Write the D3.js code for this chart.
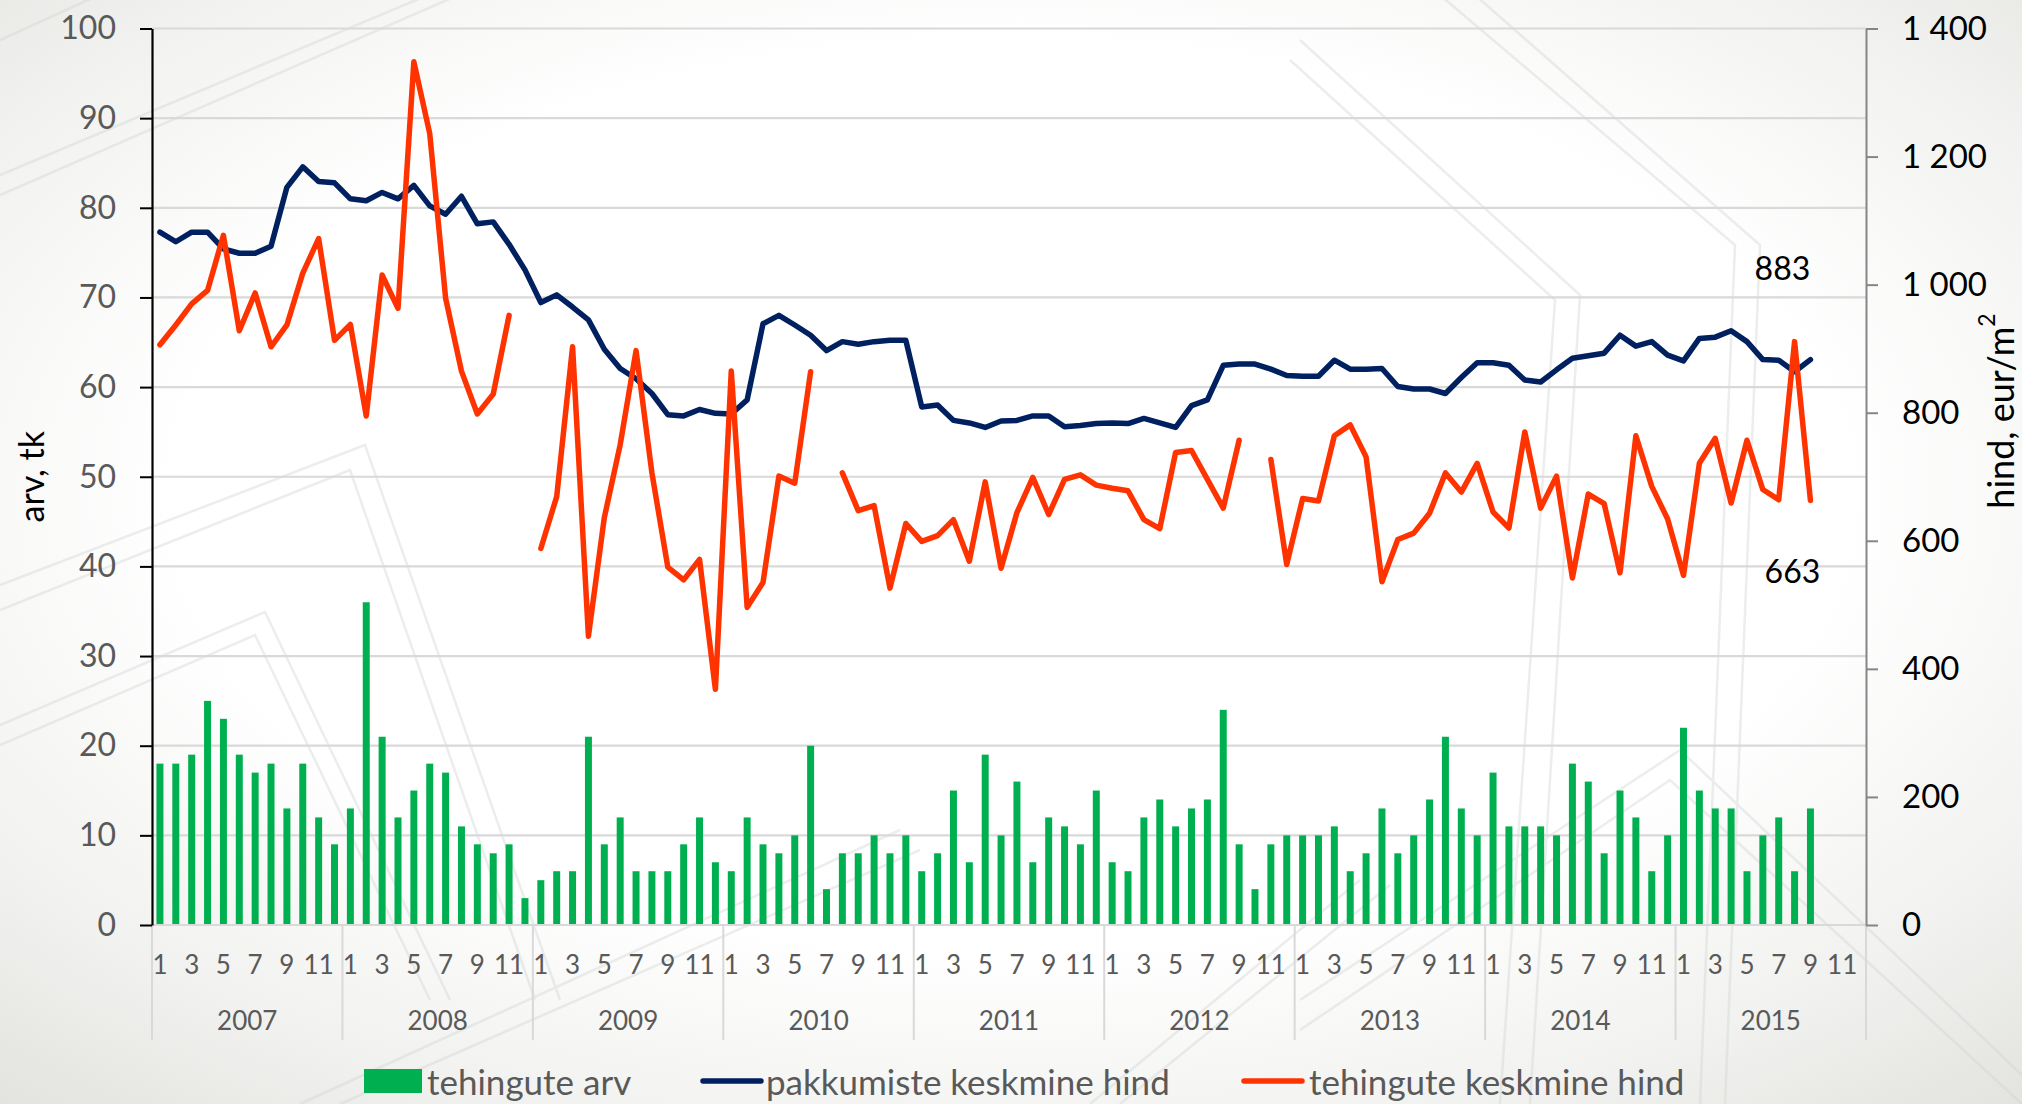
<!DOCTYPE html>
<html><head><meta charset="utf-8">
<script src="https://cdn.jsdelivr.net/npm/d3@7"></script>
<style>
html,body{margin:0;padding:0;background:#fff;}
svg{display:block;font-family:Lato,"Open Sans",sans-serif;}
</style></head><body>
<svg id="chart" width="2022" height="1104"></svg>
<script>
// ---------- data ----------
const years = [2007, 2008, 2009, 2010, 2011, 2012, 2013, 2014, 2015];
const monthTickLabels = ["1", "", "3", "", "5", "", "7", "", "9", "", "11", ""];
const leftTicks = [0, 10, 20, 30, 40, 50, 60, 70, 80, 90, 100];
const rightTicks = [0, 200, 400, 600, 800, 1000, 1200, 1400];

// tehingute arv (count of deals), monthly 2007-01 .. 2015-09
const dealCount = [
  18, 18, 19, 25, 23, 19, 17, 18, 13, 18, 12, 9,
  13, 36, 21, 12, 15, 18, 17, 11, 9, 8, 9, 3,
  5, 6, 6, 21, 9, 12, 6, 6, 6, 9, 12, 7,
  6, 12, 9, 8, 10, 20, 4, 8, 8, 10, 8, 10,
  6, 8, 15, 7, 19, 10, 16, 7, 12, 11, 9, 15,
  7, 6, 12, 14, 11, 13, 14, 24, 9, 4, 9, 10,
  10, 10, 11, 6, 8, 13, 8, 10, 14, 21, 13, 10,
  17, 11, 11, 11, 10, 18, 16, 8, 15, 12, 6, 10,
  22, 15, 13, 13, 6, 10, 12, 6, 13, null, null, null
];
// pakkumiste keskmine hind (eur/m2)
const offerPrice = [
  1082, 1067, 1082, 1082, 1056, 1049, 1049, 1060, 1152, 1184, 1161, 1159,
  1134, 1131, 1144, 1134, 1155, 1123, 1110, 1138, 1095, 1098, 1063, 1023,
  972, 984, 965, 945, 899, 869, 853, 830, 797, 795, 805, 799,
  798, 820, 939, 952, 937, 921, 897, 911, 907, 911, 913, 913,
  809, 812, 788, 784, 777, 787, 788, 795, 795, 778, 780, 783,
  784, 783, 791, 784, 777, 811, 820, 874, 876, 876, 868, 858,
  857, 857, 882, 868, 868, 869, 841, 837, 837, 830, 855, 878,
  878, 874, 851, 848, 867, 885, 889, 893, 921, 904, 911, 890,
  881, 916, 918, 928, 911, 883, 882, 864, 883, null, null, null
];
// tehingute keskmine hind (eur/m2)
const dealPrice = [
  906, 937, 970, 991, 1077, 928, 987, 903, 937, 1018, 1072, 913,
  938, 795, 1015, 963, 1348, 1236, 979, 865, 798, 829, 952, null,
  588, 669, 903, 451, 636, 750, 897, 706, 559, 539, 571, 368,
  865, 496, 535, 701, 690, 864, null, 706, 647, 655, 526, 627,
  599, 608, 633, 568, 692, 557, 644, 699, 641, 696, 703, 687,
  682, 678, 633, 619, 738, 741, 696, 651, 757, null, 727, 563,
  666, 662, 764, 781, 731, 536, 602, 612, 643, 706, 676, 721,
  645, 620, 770, 651, 701, 542, 673, 658, 550, 764, 685, 634,
  546, 721, 760, 659, 757, 680, 664, 911, 663, null, null, null
];
const seriesNames = ["tehingute arv", "pakkumiste keskmine hind", "tehingute keskmine hind"];
const lastLabels = ["883", "663"];

// ---------- layout ----------
const W = 2022, H = 1104;
const plot = {left: 152, right: 1866, top: 28.5, bottom: 925};
const colGreen = "#00B050", colBlue = "#002060", colRed = "#FF3300";
const gridCol = "#d9d9d9", textGray = "#595959";

const categories = [];
years.forEach(y => monthTickLabels.forEach((m, i) => categories.push({year: y, month: i + 1, label: m})));

const svg = d3.select("#chart");

// background
const defs = svg.append("defs");
const rg = defs.append("radialGradient").attr("id", "bg")
  .attr("cx", "50%").attr("cy", "45%").attr("r", "75%");
rg.append("stop").attr("offset", "0%").attr("stop-color", "#ffffff");
rg.append("stop").attr("offset", "55%").attr("stop-color", "#ffffff");
rg.append("stop").attr("offset", "80%").attr("stop-color", "#f1f1ef");
rg.append("stop").attr("offset", "100%").attr("stop-color", "#e2e2df");
svg.append("rect").attr("width", W).attr("height", H).attr("fill", "url(#bg)");

// faint decorative lines (background ornament)
const deco = svg.append("g").attr("fill", "none").attr("stroke", "#cfd6d2")
  .attr("stroke-width", 2.5).attr("opacity", 0.4);
[
  "M0,175 L440,-10", "M0,195 L470,-10",
  "M0,40 L110,-10",
  "M0,585 L365,445 L560,1000", "M0,610 L350,470 L535,1000",
  "M0,725 L265,612 L450,1000", "M0,745 L255,635 L430,1000",
  "M1440,-5 L1735,245 L1700,1104", "M1475,-5 L1760,245 L1725,1104",
  "M1290,60 L1555,300 L1500,1104", "M1300,40 L1580,295 L1530,1104",
  "M1300,1000 L1680,750 L2022,1075", "M1300,1030 L1670,780 L2022,1104",
  "M1090,1104 L1360,880", "M1120,1104 L1390,885",
  "M300,1104 L900,830", "M340,1104 L920,850"
].forEach(d => deco.append("path").attr("d", d));

// scales
const x = d3.scaleBand().domain(d3.range(categories.length))
  .range([plot.left, plot.right]).paddingInner(0.56).paddingOuter(0.28);
const step = x.step();
const cx = i => x(i) + x.bandwidth() / 2;
const yL = d3.scaleLinear().domain([0, 100]).range([plot.bottom, plot.top]);
const yR = d3.scaleLinear().domain([0, 1400]).range([plot.bottom, plot.top]);

// gridlines
svg.append("g").selectAll("line").data(leftTicks).join("line")
  .attr("x1", plot.left).attr("x2", plot.right)
  .attr("y1", d => yL(d)).attr("y2", d => yL(d))
  .attr("stroke", gridCol).attr("stroke-width", 2.2);

// bars
svg.append("g").selectAll("rect")
  .data(dealCount.map((v, i) => ({v, i})).filter(d => d.v != null))
  .join("rect")
  .attr("x", d => x(d.i)).attr("width", x.bandwidth())
  .attr("y", d => yL(d.v)).attr("height", d => yL(0) - yL(d.v))
  .attr("fill", colGreen);

// x axis baseline & year separators
svg.append("line").attr("x1", plot.left).attr("x2", plot.right)
  .attr("y1", plot.bottom).attr("y2", plot.bottom)
  .attr("stroke", gridCol).attr("stroke-width", 2.2);
svg.append("g").selectAll("line").data(d3.range(years.length + 1)).join("line")
  .attr("x1", k => plot.left + k * 12 * step).attr("x2", k => plot.left + k * 12 * step)
  .attr("y1", plot.bottom).attr("y2", 1040)
  .attr("stroke", gridCol).attr("stroke-width", 2);

// month labels
svg.append("g").selectAll("text").data(categories.map((c, i) => ({c, i})).filter(d => d.c.label))
  .join("text")
  .attr("x", d => cx(d.i)).attr("y", 964)
  .attr("text-anchor", "middle").attr("dominant-baseline", "central")
  .attr("font-size", 26).attr("fill", textGray)
  .text(d => d.c.label);
// year labels
svg.append("g").selectAll("text").data(years).join("text")
  .attr("x", (y, k) => plot.left + (k * 12 + 6) * step).attr("y", 1020)
  .attr("text-anchor", "middle").attr("dominant-baseline", "central")
  .attr("font-size", 26).attr("fill", textGray)
  .text(d => d);

// left axis
const gL = svg.append("g").attr("transform", `translate(${plot.left},0)`)
  .call(d3.axisLeft(yL).tickValues(leftTicks).tickSize(12).tickPadding(24).tickSizeOuter(0));
gL.select(".domain").attr("stroke", "#000").attr("stroke-width", 2.2);
gL.selectAll(".tick line").attr("stroke", "#000").attr("stroke-width", 2);
gL.selectAll(".tick text").attr("font-size", 32).attr("fill", textGray)
  .attr("font-family", "Lato, sans-serif");

// right axis
const fmt = d3.formatLocale({decimal: ",", thousands: "\u00a0", grouping: [3], currency: ["", ""]}).format(",d");
const gR = svg.append("g").attr("transform", `translate(${plot.right},0)`)
  .call(d3.axisRight(yR).tickValues(rightTicks).tickSize(12).tickPadding(24).tickSizeOuter(0).tickFormat(fmt));
gR.select(".domain").attr("stroke", "#868686").attr("stroke-width", 2);
gR.selectAll(".tick line").attr("stroke", "#868686").attr("stroke-width", 2);
gR.selectAll(".tick text").attr("font-size", 33).attr("fill", "#000")
  .attr("font-family", "Lato, sans-serif");

// axis titles
svg.append("text").attr("transform", `translate(30,${(plot.top + plot.bottom) / 2}) rotate(-90)`)
  .attr("text-anchor", "middle").attr("dominant-baseline", "central")
  .attr("font-size", 34).attr("fill", "#000").text("arv, tk");
const rt = svg.append("text").attr("transform", `translate(2000,411) rotate(-90)`)
  .attr("text-anchor", "middle").attr("dominant-baseline", "central")
  .attr("font-size", 36).attr("fill", "#000");
rt.append("tspan").text("hind, eur/m");
rt.append("tspan").attr("dy", -14).attr("font-size", 23).text("2");

// lines
const line = d3.line().defined(d => d != null).x((d, i) => cx(i)).y(d => yR(d));
svg.append("path").datum(offerPrice).attr("d", line)
  .attr("fill", "none").attr("stroke", colBlue).attr("stroke-width", 5.5)
  .attr("stroke-linejoin", "round").attr("stroke-linecap", "round");
svg.append("path").datum(dealPrice).attr("d", line)
  .attr("fill", "none").attr("stroke", colRed).attr("stroke-width", 5.5)
  .attr("stroke-linejoin", "round").attr("stroke-linecap", "round");

// end labels
const lastIdx = 104;
svg.append("text").attr("x", cx(lastIdx) - 28).attr("y", yR(offerPrice[lastIdx]) - 92)
  .attr("text-anchor", "middle").attr("dominant-baseline", "central")
  .attr("font-size", 32).attr("fill", "#000").text(lastLabels[0]);
svg.append("text").attr("x", cx(lastIdx) - 18).attr("y", yR(dealPrice[lastIdx]) + 70)
  .attr("text-anchor", "middle").attr("dominant-baseline", "central")
  .attr("font-size", 32).attr("fill", "#000").text(lastLabels[1]);

// legend
const lg = svg.append("g");
const legY = 1081;
lg.append("rect").attr("x", 364).attr("y", legY - 12).attr("width", 58).attr("height", 24).attr("fill", colGreen);
lg.append("text").attr("x", 427).attr("y", legY).attr("dominant-baseline", "central")
  .attr("font-size", 35).attr("fill", textGray).text(seriesNames[0]);
lg.append("line").attr("x1", 703).attr("x2", 761).attr("y1", legY).attr("y2", legY)
  .attr("stroke", colBlue).attr("stroke-width", 5.5).attr("stroke-linecap", "round");
lg.append("text").attr("x", 766).attr("y", legY).attr("dominant-baseline", "central")
  .attr("font-size", 35).attr("fill", textGray).text(seriesNames[1]);
lg.append("line").attr("x1", 1244).attr("x2", 1302).attr("y1", legY).attr("y2", legY)
  .attr("stroke", colRed).attr("stroke-width", 5.5).attr("stroke-linecap", "round");
lg.append("text").attr("x", 1309).attr("y", legY).attr("dominant-baseline", "central")
  .attr("font-size", 35).attr("fill", textGray).text(seriesNames[2]);
</script>
</body></html>
